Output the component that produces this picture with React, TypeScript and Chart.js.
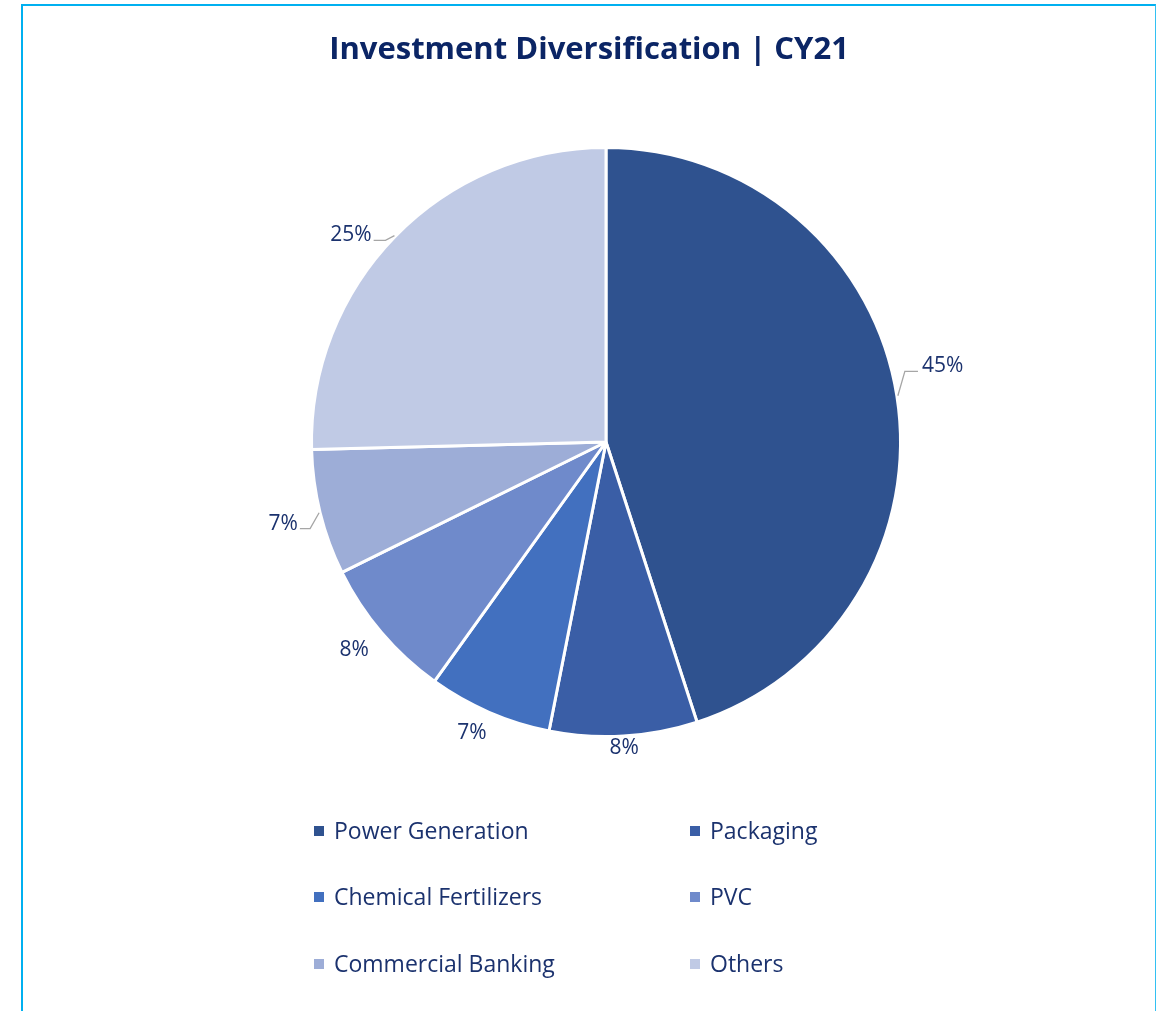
import React, { useEffect, useRef } from "react";
import { Chart, registerables } from "chart.js";

Chart.register(...registerables);

// ---- data ----
const chartTitle = "Investment Diversification | CY21";
const categories = [
  "Power Generation",
  "Packaging",
  "Chemical Fertilizers",
  "PVC",
  "Commercial Banking",
  "Others",
];
const shares = [45.0, 8.1, 6.8, 7.8, 6.9, 25.4];
const pctLabels = ["45%", "8%", "7%", "8%", "7%", "25%"];

// ---- styles ----
const sliceColors = ["#2F528F", "#3A5EA6", "#4270BF", "#6F8ACB", "#9DADD7", "#C0CAE5"];
const labelDistance = [51, 10, 24, 31, 38, 35];
const labelAngleNudge = [-4, 0, 1.5, 1, 0, -5];
const labelLeader = [true, false, false, false, true, true];
const FONT = "'Open Sans', Lato, sans-serif";
const TEXT_COLOR = "#1B326E";
const TITLE_COLOR = "#0B2565";

const W = 1156;
const H = 1011;

const overlayPlugin = {
  id: "overlay",
  afterDraw(chart: any) {
    const ctx = chart.ctx;
    ctx.save();
    // title
    ctx.fillStyle = TITLE_COLOR;
    ctx.font = `bold 31px ${FONT}`;
    ctx.textAlign = "center";
    ctx.textBaseline = "middle";
    ctx.fillText(chartTitle, 589, 50);

    // data labels
    const meta = chart.getDatasetMeta(0);
    ctx.font = `21px ${FONT}`;
    meta.data.forEach((arc: any, i: number) => {
      const p = arc.getProps(["x", "y", "startAngle", "endAngle", "outerRadius"], true);
      const mid = (p.startAngle + p.endAngle) / 2;
      const a = mid + (labelAngleNudge[i] * Math.PI) / 180;
      const r = p.outerRadius + labelDistance[i];
      const tx = p.x + Math.cos(a) * r;
      const ty = p.y + Math.sin(a) * r + 2;
      ctx.fillStyle = TEXT_COLOR;
      ctx.textAlign = "center";
      ctx.textBaseline = "middle";
      ctx.fillText(pctLabels[i], tx, ty);
      if (labelLeader[i]) {
        const tw = ctx.measureText(pctLabels[i]).width;
        const ex = p.x + Math.cos(mid) * (p.outerRadius + 1);
        const ey = p.y + Math.sin(mid) * (p.outerRadius + 1);
        const right = tx > p.x;
        const lineY = ty + 5;
        const elbowX = right ? ex + 7 : ex - 9;
        const endX = right ? tx - tw / 2 - 4 : tx + tw / 2 + 2;
        ctx.strokeStyle = "#A6A6A6";
        ctx.lineWidth = 1.3;
        ctx.beginPath();
        ctx.moveTo(ex, ey);
        ctx.lineTo(elbowX, lineY);
        ctx.lineTo(endX, lineY);
        ctx.stroke();
      }
    });

    // legend (two columns)
    const colX = [314, 690];
    const rowY = [831, 897, 964];
    ctx.font = `23px ${FONT}`;
    ctx.textAlign = "left";
    ctx.textBaseline = "middle";
    categories.forEach((name, i) => {
      const x = colX[i % 2];
      const y = rowY[Math.floor(i / 2)];
      ctx.fillStyle = sliceColors[i];
      ctx.fillRect(x, y - 5, 10, 10);
      ctx.fillStyle = TEXT_COLOR;
      ctx.fillText(name, x + 20, y + 1);
    });
    ctx.restore();
  },
};

export default function App() {
  const ref = useRef<HTMLCanvasElement | null>(null);
  useEffect(() => {
    if (!ref.current) return;
    const chart = new Chart(ref.current, {
      type: "pie",
      data: {
        labels: categories,
        datasets: [
          {
            data: shares,
            backgroundColor: sliceColors,
            borderColor: "#FFFFFF",
            borderWidth: 3,
          },
        ],
      },
      options: {
        responsive: false,
        animation: false,
        layout: { padding: { left: 310, right: 254, top: 146, bottom: 273 } },
        plugins: {
          legend: { display: false },
          title: { display: false },
          tooltip: { enabled: false },
        },
      },
      plugins: [overlayPlugin],
    });
    return () => chart.destroy();
  }, []);

  return (
    <div style={{ position: "absolute", left: 0, top: 0, width: W, height: H, background: "#fff", overflow: "hidden" }}>
      <div
        style={{
          position: "absolute",
          left: 21,
          top: 4,
          width: 1135,
          height: H - 4,
          boxSizing: "border-box",
          borderLeft: "2px solid #00B0F0",
          borderTop: "2px solid #00B0F0",
          borderRight: "1px solid #33C0F2",
        }}
      />
      <canvas ref={ref} width={W} height={H} style={{ position: "absolute", left: 0, top: 0 }} />
    </div>
  );
}
